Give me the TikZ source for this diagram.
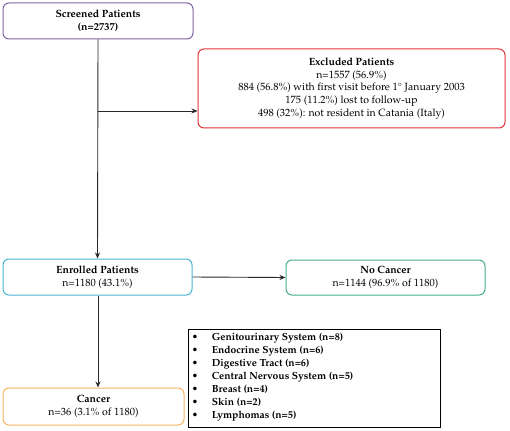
\documentclass[tikz,border=0pt]{standalone}
\usepackage[T1]{fontenc}
\usepackage{textcomp}
\usepackage{mathpazo}
\usetikzlibrary{arrows.meta}
\definecolor{cpurple}{RGB}{128,100,162}
\definecolor{cred}{RGB}{222,50,55}
\definecolor{cblue}{RGB}{75,180,210}
\definecolor{cgreen}{RGB}{70,172,130}
\definecolor{corange}{RGB}{245,180,100}
\definecolor{carrow}{RGB}{40,40,40}
\tikzset{
  box/.style={draw, line width=1pt, rounded corners=6pt, align=center, inner sep=2pt, font=\fontsize{10.5}{12.8}\selectfont},
  conn/.style={draw=carrow, line width=0.9pt, -{Stealth[length=6pt,width=5pt]}},
}
\begin{document}
\begin{tikzpicture}[x=1pt,y=-1pt]
\useasboundingbox (0,0) rectangle (510,430);
\node[box, draw=cpurple, minimum width=190pt, minimum height=36pt] (screened) at (98,21)
  {\textbf{Screened Patients}\\\textbf{(n=2737)}};
\node[box, draw=cred, minimum width=307pt, minimum height=79pt] (excluded) at (351.5,88.5)
  {\textbf{Excluded Patients}\\n=1557 (56.9\%)\\884 (56.8\%) with first visit before 1\textdegree{} January 2003\\175 (11.2\%) lost to follow-up\\498 (32\%): not resident in Catania (Italy)};
\node[box, draw=cblue, minimum width=189pt, minimum height=36pt] (enrolled) at (97.5,277)
  {\textbf{Enrolled Patients}\\n=1180 (43.1\%)};
\node[box, draw=cgreen, minimum width=199pt, minimum height=35pt] (nocancer) at (385.5,277.5)
  {\textbf{No Cancer}\\n=1144 (96.9\% of 1180)};
\node[box, draw=corange, minimum width=181pt, minimum height=37pt] (cancer) at (93.5,406.5)
  {\textbf{Cancer}\\n=36 (3.1\% of 1180)};
\node[draw, line width=0.8pt, minimum width=252pt, minimum height=98pt, inner sep=0pt] (list) at (314,378) {};
\node[anchor=north west, align=left, inner sep=0pt, font=\fontsize{10.3}{12.9}\selectfont\bfseries] (items) at ([xshift=4pt,yshift=-4.5pt]list.north west)
  {\makebox[20pt][l]{\textbullet}Genitourinary System (n=8)\\
   \makebox[20pt][l]{\textbullet}Endocrine System (n=6)\\
   \makebox[20pt][l]{\textbullet}Digestive Tract (n=6)\\
   \makebox[20pt][l]{\textbullet}Central Nervous System (n=5)\\
   \makebox[20pt][l]{\textbullet}Breast (n=4)\\
   \makebox[20pt][l]{\textbullet}Skin (n=2)\\
   \makebox[20pt][l]{\textbullet}Lymphomas (n=5)};
\draw[conn] (screened.south) -- (enrolled.north);
\coordinate (br) at (screened.south |- 0,111);
\draw[conn] (br) -- (br -| excluded.west);
\draw[conn] (enrolled.east) -- (nocancer.west);
\draw[conn] ([xshift=0.5pt]enrolled.south) -- ([xshift=0.5pt]enrolled.south |- cancer.north);
\end{tikzpicture}
\end{document}
